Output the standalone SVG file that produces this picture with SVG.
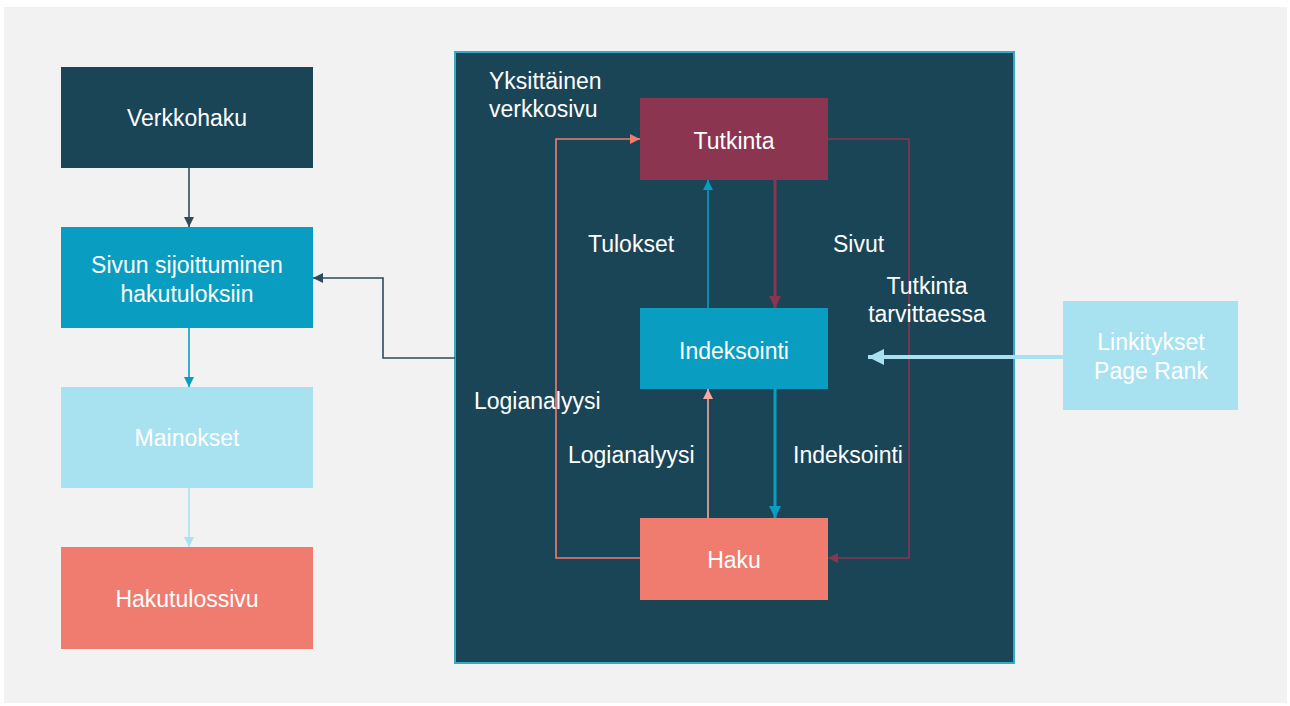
<svg xmlns="http://www.w3.org/2000/svg" width="1290" height="706" viewBox="0 0 1290 706">
<style>
text{font-family:"Liberation Sans",Arial,sans-serif;font-size:23px;fill:#ffffff}
.n{font-size:23px}
.c{text-anchor:middle}
.ln{fill:none}
</style>
<defs>
<marker id="aDark" viewBox="0 0 10 10" refX="10" refY="5" markerWidth="11" markerHeight="10" markerUnits="userSpaceOnUse" orient="auto"><path d="M0,0 L10,5 L0,10 z" fill="#2c4b5b"/></marker>
<marker id="aTeal" viewBox="0 0 10 10" refX="10" refY="5" markerWidth="11" markerHeight="10" markerUnits="userSpaceOnUse" orient="auto"><path d="M0,0 L10,5 L0,10 z" fill="#0a9dc2"/></marker>
<marker id="aTealB" viewBox="0 0 10 10" refX="10" refY="5" markerWidth="13" markerHeight="12" markerUnits="userSpaceOnUse" orient="auto"><path d="M0,0 L10,5 L0,10 z" fill="#0a9dc2"/></marker>
<marker id="aLight" viewBox="0 0 10 10" refX="10" refY="5" markerWidth="11" markerHeight="10" markerUnits="userSpaceOnUse" orient="auto"><path d="M0,0 L10,5 L0,10 z" fill="#a8e2f1"/></marker>
<marker id="aLightB" viewBox="0 0 10 10" refX="10" refY="5" markerWidth="17" markerHeight="16" markerUnits="userSpaceOnUse" orient="auto"><path d="M0,0 L10,5 L0,10 z" fill="#a8e2f1"/></marker>
<marker id="aSalmon" viewBox="0 0 10 10" refX="10" refY="5" markerWidth="11" markerHeight="10" markerUnits="userSpaceOnUse" orient="auto"><path d="M0,0 L10,5 L0,10 z" fill="#f07c70"/></marker>
<marker id="aPink" viewBox="0 0 10 10" refX="10" refY="5" markerWidth="11" markerHeight="10" markerUnits="userSpaceOnUse" orient="auto"><path d="M0,0 L10,5 L0,10 z" fill="#f3aaa2"/></marker>
<marker id="aMaroon" viewBox="0 0 10 10" refX="10" refY="5" markerWidth="11" markerHeight="10" markerUnits="userSpaceOnUse" orient="auto"><path d="M0,0 L10,5 L0,10 z" fill="#8b3550"/></marker>
<marker id="aMaroonB" viewBox="0 0 10 10" refX="10" refY="5" markerWidth="13" markerHeight="12" markerUnits="userSpaceOnUse" orient="auto"><path d="M0,0 L10,5 L0,10 z" fill="#8b3550"/></marker>
</defs>
<rect x="0" y="0" width="1290" height="706" fill="#ffffff"/>
<rect x="4" y="7" width="1283" height="696" fill="#f2f2f2"/>

<g id="container">
<rect x="455" y="52" width="559" height="611" fill="#1a4557" stroke="#35a9c6" stroke-width="2"/>
<text x="489" y="89">Yksittäinen</text>
<text x="489" y="117">verkkosivu</text>
</g>

<g id="verkkohaku"><rect x="61" y="67" width="252" height="101" fill="#1a4557"/><text class="n c" x="187" y="126">Verkkohaku</text></g>
<g id="sivun"><rect x="61" y="227" width="252" height="101" fill="#0a9dc2"/><text class="n c" x="187" y="273">Sivun sijoittuminen</text><text class="n c" x="187" y="302">hakutuloksiin</text></g>
<g id="mainokset"><rect x="61" y="387" width="252" height="101" fill="#a8e2f1"/><text class="n c" x="187" y="446" fill="#eef9fc">Mainokset</text></g>
<g id="hakutulossivu"><rect x="61" y="547" width="252" height="102" fill="#f07c70"/><text class="n c" x="187" y="607">Hakutulossivu</text></g>
<g id="linkitykset"><rect x="1063" y="301" width="175" height="109" fill="#a8e2f1"/><text class="n c" x="1151" y="350" fill="#eef9fc">Linkitykset</text><text class="n c" x="1151" y="379" fill="#eef9fc">Page Rank</text></g>

<g id="connectors">
<path class="ln" d="M189,168 V227" stroke="#2c4b5b" stroke-width="1.6" marker-end="url(#aDark)"/>
<path class="ln" d="M189,328 V387" stroke="#0a9dc2" stroke-width="1.6" marker-end="url(#aTeal)"/>
<path class="ln" d="M189,488 V547" stroke="#a8e2f1" stroke-width="1.6" marker-end="url(#aLight)"/>
<path class="ln" d="M455,358 H383 V278 H313" stroke="#2c4b5b" stroke-width="1.6" marker-end="url(#aDark)"/>
<path class="ln" d="M640,558 H556 V139 H640" stroke="#f07c70" stroke-width="1.6" marker-end="url(#aSalmon)"/>
<path class="ln" d="M828,139 H909 V558 H828" stroke="#8b3550" stroke-width="1.6" marker-end="url(#aMaroon)"/>
<path class="ln" d="M708,308 V180" stroke="#0a9dc2" stroke-width="1.6" marker-end="url(#aTeal)"/>
<path class="ln" d="M775,180 V308" stroke="#8b3550" stroke-width="3" marker-end="url(#aMaroonB)"/>
<path class="ln" d="M708,518 V389" stroke="#f3aaa2" stroke-width="1.6" marker-end="url(#aPink)"/>
<path class="ln" d="M775,389 V518" stroke="#0a9dc2" stroke-width="3" marker-end="url(#aTealB)"/>
<path class="ln" d="M1063,357 H868" stroke="#a8e2f1" stroke-width="4" marker-end="url(#aLightB)"/>
</g>

<g id="tutkinta"><rect x="640" y="98" width="188" height="82" fill="#8b3550"/><text class="c" x="734" y="149">Tutkinta</text></g>
<g id="indeksointi"><rect x="640" y="308" width="188" height="81" fill="#0a9dc2"/><text class="c" x="734" y="359">Indeksointi</text></g>
<g id="haku"><rect x="640" y="518" width="188" height="82" fill="#f07c70"/><text class="c" x="734" y="568">Haku</text></g>

<g id="labels">
<text x="588" y="252">Tulokset</text>
<text x="833" y="252">Sivut</text>
<text class="c" x="927" y="294">Tutkinta</text>
<text class="c" x="927" y="322">tarvittaessa</text>
<text x="474" y="409">Logianalyysi</text>
<text x="568" y="463">Logianalyysi</text>
<text x="793" y="463">Indeksointi</text>
</g>
</svg>
